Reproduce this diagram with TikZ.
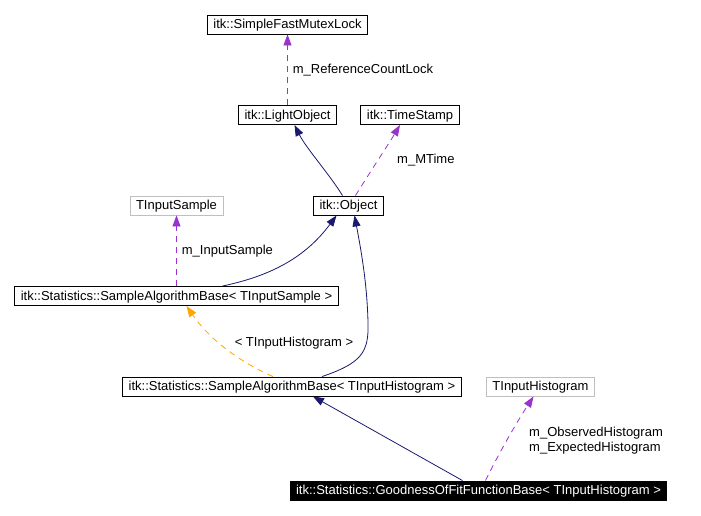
\documentclass[tikz,border=0pt]{standalone}
\usepackage{fontspec}
\setmainfont{Liberation Sans}
\usetikzlibrary{arrows.meta}
\definecolor{inhcol}{HTML}{191970}
\definecolor{usecol}{HTML}{9A32CD}
\definecolor{tplcol}{HTML}{FFA500}
\definecolor{extcol}{HTML}{BFBFBF}
\begin{document}
\begin{tikzpicture}[x=1pt,y=-1pt,
    font=\fontsize{13}{15}\selectfont,
    cls/.style={draw=black,line width=0.9pt,inner xsep=6pt,inner ysep=0pt,minimum height=19pt,text height=10.5pt,text depth=2.5pt},
    ext/.style={cls,draw=extcol},
    cur/.style={cls,fill=black,text=white},
    inherit/.style={inhcol,line width=0.8pt,-{Triangle[length=11pt,width=8pt]}},
    member/.style={usecol,line width=0.8pt,dash pattern=on 6pt off 5pt,-{Triangle[length=11pt,width=8pt]}},
    tmpl/.style={tplcol,line width=0.8pt,dash pattern=on 6pt off 5pt,-{Triangle[length=11pt,width=8pt]}},
    lbl/.style={text=black,inner sep=0pt,align=left}]
  \useasboundingbox (0,0) rectangle (701,515);
  \fill[white] (0,0) rectangle (701,515);
  \node[cls] (mutex) at (287.5,24.5) {itk::SimpleFastMutexLock};
  \node[cls] (light) at (287.5,115) {itk::LightObject};
  \node[cls] (stamp) at (410,115) {itk::TimeStamp};
  \node[ext] (sample) at (176.5,205.5) {TInputSample};
  \node[cls] (object) at (348.5,205.5) {itk::Object};
  \node[cls] (algsample) at (176.5,296) {itk::Statistics::SampleAlgorithmBase< TInputSample >};
  \node[cls] (alghist) at (292,386.5) {itk::Statistics::SampleAlgorithmBase< TInputHistogram >};
  \node[ext] (hist) at (540.5,386.5) {TInputHistogram};
  \node[cur] (gof) at (478.5,490.5) {itk::Statistics::GoodnessOfFitFunctionBase< TInputHistogram >};
  \draw[member] (light.north) -- (mutex.south)
    node[lbl,midway,right=5pt] {m\_ReferenceCountLock};
  \draw[inherit] ([xshift=-6pt]object.north) .. controls (330,175) and (306,148) .. ([xshift=7pt]light.south);
  \draw[member] ([xshift=7pt]object.north) .. controls (370,172) and (388,145) .. ([xshift=-10pt]stamp.south);
  \node[lbl,anchor=west] (mtime) at (397,160) {m\_MTime};
  \draw[member] (algsample.north) -- (sample.south)
    node[lbl,midway,right=5pt] {m\_InputSample};
  \draw[inherit] ([xshift=46pt]algsample.north) .. controls (270,276) and (305,258) .. ([xshift=-12pt]object.south);
  \draw[inherit] ([xshift=30pt]alghist.north) .. controls (362,363) and (369,352) .. (368,322)
    .. controls (367,285) and (362,255) .. ([xshift=6pt]object.south);
  \draw[tmpl] ([xshift=-19pt]alghist.north) .. controls (240,362) and (210,340) .. ([xshift=10pt]algsample.south);
  \node[lbl] (targ) at (294,343) {< TInputHistogram >};
  \draw[inherit] ([xshift=-16pt]gof.north) -- ([xshift=21pt]alghist.south);
  \draw[member] ([xshift=7pt]gof.north) .. controls (498,455) and (515,425) .. ([xshift=-7pt]hist.south);
  \node[lbl,anchor=west] (hmember) at (529,441) {m\_ObservedHistogram\\m\_ExpectedHistogram};
\end{tikzpicture}
\end{document}
